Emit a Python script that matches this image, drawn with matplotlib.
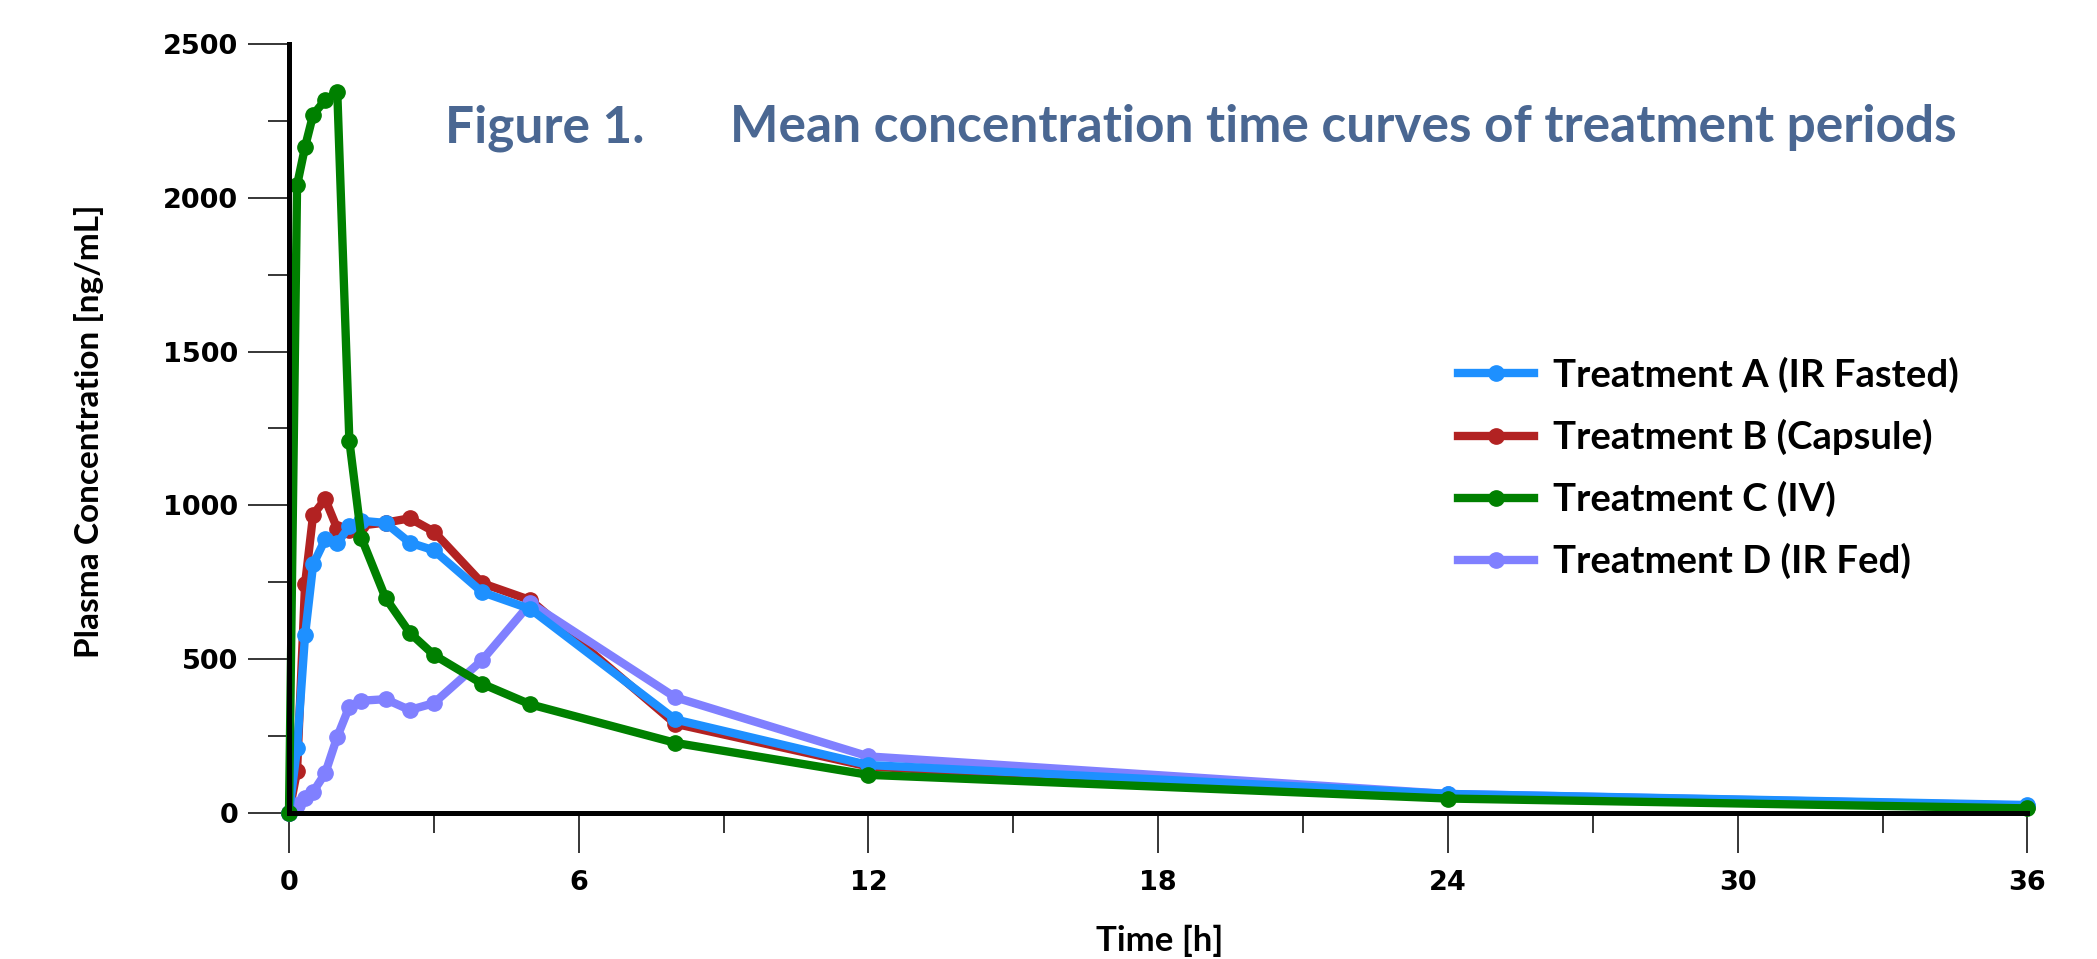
import matplotlib
matplotlib.use("Agg")
import matplotlib.pyplot as plt
from matplotlib.ticker import MultipleLocator

# ── Data ─────────────────────────────────────────────────────────────────────
TIME_H = [0, 0.167, 0.333, 0.5, 0.75, 1, 1.25, 1.5, 2, 2.5, 3, 4, 5, 8, 12, 24, 36]

TRT_A = [0, 211, 579, 808, 890, 877, 932, 950, 943, 879, 854, 718, 663, 304, 156, 62, 26]
TRT_B = [0, 137, 745, 970, 1020, 924, 920, 935, 944, 958, 915, 747, 692, 290, 151, 52, 18]
TRT_C = [0, 2041, 2166, 2270, 2318, 2343, 1210, 894, 699, 586, 514, 420, 353, 228, 124, 47, 15]
TRT_D = [0, 26, 48, 69, 129, 248, 346, 365, 370, 335, 357, 497, 682, 376, 184, 62, 24]

LABELS = ["Treatment A (IR Fasted)", "Treatment B (Capsule)",
          "Treatment C (IV)", "Treatment D (IR Fed)"]
X_TICKS = [0, 6, 12, 18, 24, 30, 36]
Y_TICKS = [0, 500, 1000, 1500, 2000, 2500]

# ── Style ────────────────────────────────────────────────────────────────────
COLORS = {"A": "#1e90ff", "B": "#b22222", "C": "#008000", "D": "#8080ff"}
ZORDER = {"A": 4, "B": 2, "C": 5, "D": 3}
TITLE_COLOR = "#4a6792"
TXT_FONT = "Lato"
TICK_FONT = "DejaVu Sans"
W, H = 2097, 959

fig = plt.figure(figsize=(W / 100, H / 100), dpi=100)
ax = fig.add_axes([289 / W, 1 - 813 / H, (2027.5 - 289) / W, (813 - 44) / H])

series = [("A", TRT_A), ("B", TRT_B), ("C", TRT_C), ("D", TRT_D)]
handles = {}
for (key, vals), label in zip(series, LABELS):
    ln, = ax.plot(TIME_H, vals, color=COLORS[key], lw=6, marker="o", ms=11,
                  zorder=ZORDER[key], clip_on=False, label=label)
    handles[key] = ln

ax.set_xlim(0, 36)
ax.set_ylim(0, 2500)
ax.set_xticks(X_TICKS)
ax.set_yticks(Y_TICKS)
ax.xaxis.set_minor_locator(MultipleLocator(3))
ax.yaxis.set_minor_locator(MultipleLocator(250))

for side in ("top", "right"):
    ax.spines[side].set_visible(False)
for side in ("left", "bottom"):
    ax.spines[side].set_linewidth(3.6)
    ax.spines[side].set_zorder(6)

ax.tick_params(axis="x", which="major", direction="out", length=29, width=1.1, pad=12)
ax.tick_params(axis="x", which="minor", direction="out", length=14.5, width=1.1)
ax.tick_params(axis="y", which="major", direction="out", length=29.5, width=1.1, pad=7)
ax.tick_params(axis="y", which="minor", direction="out", length=15, width=1.1)
for lab in ax.get_xticklabels() + ax.get_yticklabels():
    lab.set_fontfamily(TICK_FONT)
    lab.set_fontweight("bold")
    lab.set_fontsize(19.5)

# axis labels
fig.text(89 / W, 1 - 431 / H, "Plasma Concentration [ng/mL]", rotation=90,
         ha="center", va="center", fontsize=24, fontweight="bold", family=TXT_FONT)
fig.text(1160 / W, 1 - 941 / H, "Time [h]", ha="center", va="center",
         fontsize=25, fontweight="bold", family=TXT_FONT)

# title (two pieces, wide gap between them as in the reference)
fig.text(445 / W, 1 - 142 / H, "Figure 1.", ha="left", va="baseline",
         fontsize=37, fontweight="bold", family=TXT_FONT, color=TITLE_COLOR)
fig.text(730 / W, 1 - 142 / H, "Mean concentration time curves of treatment periods",
         ha="left", va="baseline", fontsize=37, fontweight="bold", family=TXT_FONT,
         color=TITLE_COLOR)

leg = fig.legend(handles=[handles[k] for k in "ABCD"], loc="center left",
                 bbox_to_anchor=(1458 / W, 1 - 468 / H), frameon=False,
                 prop={"family": TXT_FONT, "weight": "bold", "size": 27.5},
                 handlelength=2.0, handletextpad=0.5, labelspacing=0.68,
                 borderpad=0, borderaxespad=0)

fig.savefig("out.png", dpi=100)
